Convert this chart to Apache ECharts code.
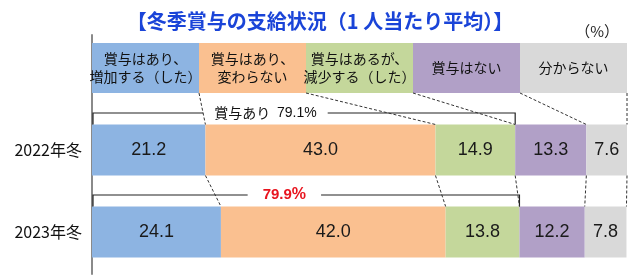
<!DOCTYPE html>
<html><head><meta charset="utf-8">
<script src="https://cdn.jsdelivr.net/npm/echarts@6/dist/echarts.min.js"></script>
<style>html,body{margin:0;padding:0;background:#fff}#c{width:640px;height:277px}</style>
</head><body><div id="c"></div>
<script>
const titleText = '【冬季賞与の支給状況（1 人当たり平均）】';
const unitText = '（%）';
const categories = ['賞与はあり、\n増加する（した）', '賞与はあり、\n変わらない', '賞与はあるが、\n減少する（した）', '賞与はない', '分からない'];
const years = ['2022年冬', '2023年冬'];
const values2022 = [21.2, 43.0, 14.9, 13.3, 7.6];
const values2023 = [24.1, 42.0, 13.8, 12.2, 7.8];
const bracketNames = ['賞与あり', ''];
const bracketCount = 3; // first three categories = 賞与あり

const colors = ['#8DB4E2', '#FAC090', '#C4D79B', '#B1A0C7', '#D9D9D9'];
const JP = '"Noto Sans CJK JP", "Noto Sans", sans-serif';
const NUM = '"Liberation Sans Narrow", "Liberation Sans", Arial, sans-serif';

const n = categories.length;
const rows = [values2022, values2023];
const cum = rows.map(r => { let s = 0; return [0].concat(r.map(v => +(s += v).toFixed(1))); });
const half = 25.5;
const labelFrac = [0.41, 0.45];

const chart = echarts.init(document.getElementById('c'), null, {renderer: 'canvas'});

const barSeries = categories.map((c, i) => ({
  type: 'bar', stack: 's', barWidth: 51, silent: true,
  xAxisIndex: 0, yAxisIndex: 0,
  data: ['-'].concat(rows.map(r => r[i])),
  itemStyle: {color: colors[i]},
  label: {show: true, position: 'inside', formatter: p => Number(p.value).toFixed(1),
    fontSize: 18, color: '#1a1a1a', fontFamily: NUM}
}));

const headerSeries = {
  type: 'custom', xAxisIndex: 0, yAxisIndex: 0, silent: true, z: 3,
  data: categories.map((c, i) => [i, 0]),
  renderItem(params, api) {
    const i = api.value(0);
    const yc = api.coord([0, 0])[1];
    const x0 = api.coord([i * 100 / n, 0])[0];
    const x1 = api.coord([(i + 1) * 100 / n, 0])[0];
    const h = 50;
    return {
      type: 'rect', shape: {x: x0, y: yc - h / 2, width: x1 - x0, height: h},
      style: {fill: colors[i]},
      textContent: {style: {text: categories[i], fontSize: 14, lineHeight: 18, fill: '#111',
        fontFamily: JP, align: 'center', verticalAlign: 'middle'}},
      textConfig: {position: 'inside'}
    };
  }
};

const bracketSeries = {
  type: 'custom', xAxisIndex: 0, yAxisIndex: 0, silent: true, z: 4,
  data: [[0, 0]],
  renderItem(params, api) {
    const children = [];
    rows.forEach((r, k) => {
      const yc = api.coord([0, k + 1])[1];
      const top = yc - half;
      const yb = top - 11.5;
      const total = cum[k][bracketCount];
      const xl = api.coord([0, k + 1])[0] + 1;
      const xr = api.coord([total, k + 1])[0];
      children.push({type: 'polyline', shape: {points: [[xl, top], [xl, yb], [xr, yb], [xr, top]]},
        style: {stroke: '#222', lineWidth: 1.2, fill: null}});
      const tx = api.coord([total * labelFrac[k], 0])[0];
      const txt = k === 0
        ? '{a|' + bracketNames[0] + '}  {b|' + total.toFixed(1) + '%}'
        : '{c|' + total.toFixed(1) + '}{d|%}';
      children.push({type: 'text', x: tx, y: yb, style: {
        text: txt, align: 'center', verticalAlign: 'middle',
        backgroundColor: '#fff', padding: k === 0 ? [0, 11] : [0, 15],
        rich: {
          a: {fontSize: 14, fontFamily: JP, fill: '#111'},
          b: {fontSize: 14, fontFamily: NUM, fill: '#111'},
          c: {fontSize: 15, fontFamily: NUM, fill: '#e8141e', fontWeight: 'bold'},
          d: {fontSize: 16, fontFamily: NUM, fill: '#e8141e', fontWeight: 'bold'}
        }
      }});
    });
    return {type: 'group', children};
  }
};

const connectorSeries = {
  type: 'custom', xAxisIndex: 0, yAxisIndex: 0, silent: true, z: 5,
  data: [[0, 0]],
  renderItem(params, api) {
    const children = [];
    const yH = api.coord([0, 0])[1] + 25;
    const y1 = api.coord([0, 1])[1];
    const y2 = api.coord([0, 2])[1];
    const ln = (a, b, c, d) => ({type: 'line', shape: {x1: a, y1: b, x2: c, y2: d},
      style: {stroke: '#333', lineWidth: 1, lineDash: [3, 2]}});
    for (let k = 1; k <= n; k++) {
      const xh = api.coord([k * 100 / n, 0])[0];
      const xa = api.coord([cum[0][k], 1])[0];
      const xb = api.coord([cum[1][k], 2])[0];
      children.push(ln(xh, yH, xa, y1 - half), ln(xa, y1 + half, xb, y2 - half));
    }
    return {type: 'group', children};
  }
};

chart.setOption({
  animation: false,
  title: [
    {text: titleText, left: 'center', top: 6,
      textStyle: {color: '#1a44d8', fontSize: 20, fontWeight: 'bold', fontFamily: JP}},
    {text: unitText, right: 16, top: 19,
      textStyle: {color: '#222', fontSize: 15, fontWeight: 'normal', fontFamily: JP}}
  ],
  grid: [
    {left: 92, right: 13, top: 27, height: 246},
    {left: 92, right: 13, top: 35, bottom: 3}
  ],
  xAxis: [
    {type: 'value', gridIndex: 0, min: 0, max: 100, show: false},
    {type: 'value', gridIndex: 1, min: 0, max: 1, show: false}
  ],
  yAxis: [
    {type: 'category', gridIndex: 0, inverse: true, data: [''].concat(years),
      axisLine: {show: false}, axisTick: {show: false},
      axisLabel: {fontSize: 16, color: '#111', margin: 10, fontFamily: JP}},
    {type: 'value', gridIndex: 1, min: 0, max: 1,
      axisLine: {show: true, lineStyle: {color: '#8a8a8a', width: 2}},
      axisTick: {show: false}, axisLabel: {show: false}, splitLine: {show: false}}
  ],
  series: barSeries.concat([headerSeries, bracketSeries, connectorSeries])
});
</script></body></html>
